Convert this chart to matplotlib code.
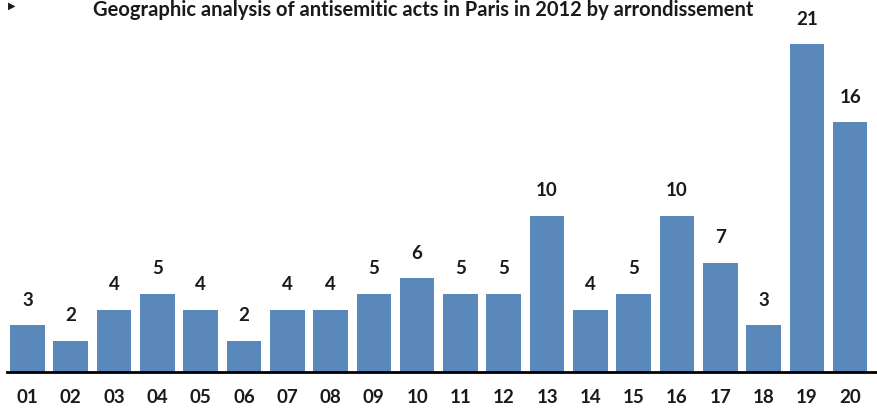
import matplotlib
matplotlib.use("Agg")
import matplotlib.pyplot as plt

arrondissements = ["01", "02", "03", "04", "05", "06", "07", "08", "09", "10",
                   "11", "12", "13", "14", "15", "16", "17", "18", "19", "20"]
acts = [3, 2, 4, 5, 4, 2, 4, 4, 5, 6, 5, 5, 10, 4, 5, 10, 7, 3, 21, 16]

title = "Geographic analysis of antisemitic acts in Paris in 2012 by arrondissement"
bar_color = "#5b88ba"
text_color = "#1a1a1a"

plt.rcParams["font.family"] = ["Lato", "DejaVu Sans"]

fig = plt.figure(figsize=(8.77, 4.08), dpi=100)
ax = fig.add_axes([7 / 877, 36 / 408, 870 / 877, 372 / 408])

x = list(range(len(acts)))
bars = ax.bar(x, acts, width=0.8, color=bar_color)
for xi, v in zip(x, acts):
    ax.annotate(str(v), (xi, v), xytext=(0, 12), textcoords="offset points",
                ha="center", va="bottom", fontsize=13.5, fontweight="bold",
                color=text_color)

ax.set_xlim(-0.473, 19.62)
ax.set_ylim(0, 23.85)
ax.set_xticks(x)
ax.set_xticklabels(arrondissements, fontsize=13.5, fontweight="bold", color=text_color)
ax.tick_params(axis="x", length=0, pad=12)
ax.set_yticks([])
for side in ["top", "right", "left"]:
    ax.spines[side].set_visible(False)
ax.spines["bottom"].set_linewidth(2)
ax.spines["bottom"].set_color("black")

fig.text(0.482, 0.999, title, ha="center", va="top", fontsize=14.5,
         fontweight="bold", color=text_color)
fig.text(12 / 877, 1 - 6 / 408, "\u25b6", ha="center", va="center", fontsize=7,
         color=text_color, family=["DejaVu Sans"])

fig.savefig("out.png", dpi=100)
